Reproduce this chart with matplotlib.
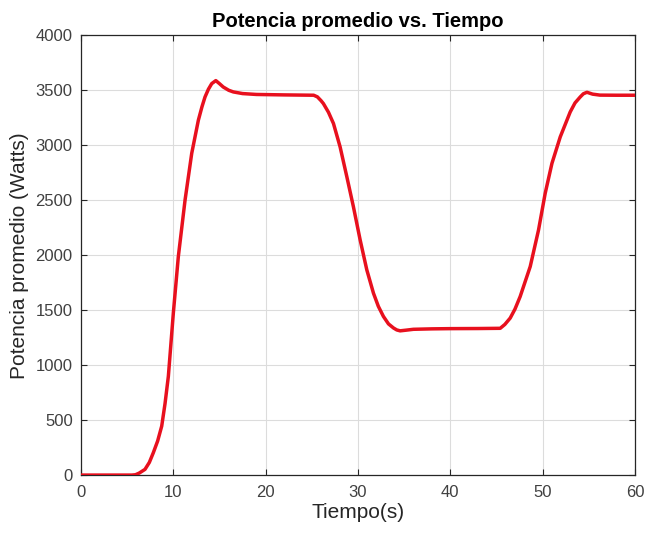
import matplotlib.pyplot as plt
import numpy as np

plt.rcParams['font.family'] = ['Liberation Sans', 'DejaVu Sans']

# Average power over time
tiempo = [0, 5.5, 5.9, 6.3, 6.93, 7.4, 7.83, 8.3, 8.74, 9.1, 9.46, 10.0,
          10.54, 11.27, 11.99, 12.71, 13.1, 13.43, 13.8, 14.16, 14.6, 15.0,
          15.4, 16.0, 16.5, 17.5, 19.0, 22.0, 25.2, 25.6, 26.0, 26.25, 26.8,
          27.34, 28.06, 28.79, 29.5, 30.23, 30.95, 31.67, 32.2, 32.75, 33.3,
          33.84, 34.2, 34.56, 35.2, 36.0, 38.0, 40.0, 43.0, 45.4, 45.9,
          46.48, 47.0, 47.56, 48.65, 49.55, 50.27, 51.0, 51.9, 52.98, 53.5,
          54.06, 54.4, 54.79, 55.4, 56.2, 58.0, 60.0]
potencia = [0, 0, 3, 18, 52, 115, 203, 310, 445, 650, 898, 1474,
            1987, 2502, 2926, 3228, 3350, 3439, 3510, 3561, 3588, 3560,
            3530, 3500, 3485, 3470, 3462, 3458, 3455, 3440, 3405, 3379, 3300,
            3198, 2985, 2713, 2441, 2139, 1867, 1655, 1535, 1443, 1375,
            1338, 1320, 1312, 1318, 1326, 1330, 1332, 1333, 1335, 1370,
            1428, 1510, 1624, 1897, 2230, 2563, 2835, 3076, 3303, 3385,
            3439, 3468, 3482, 3465, 3456, 3455, 3455]

x_ticks = np.arange(0, 61, 10)
y_ticks = np.arange(0, 4001, 500)

fig = plt.figure(figsize=(6.48, 5.35), dpi=100)
ax = fig.add_axes([0.125, 0.112, 0.855, 0.822])

ax.plot(tiempo, potencia, color='#e8101e', linewidth=2.5,
        solid_joinstyle='round', solid_capstyle='round', zorder=3)

ax.set_xlim(0, 60)
ax.set_ylim(0, 4000)
ax.set_xticks(x_ticks)
ax.set_yticks(y_ticks)

# MATLAB-like axes: boxed, inward ticks on all sides, light grid
ax.grid(True, color='#dcdcdc', linewidth=0.8)
ax.set_axisbelow(True)
ax.tick_params(direction='in', length=4, width=0.8, top=True, right=True,
               labelsize=12, colors='#262626', labelcolor='#404040')
ax.tick_params(axis='x', pad=7)
ax.tick_params(axis='y', pad=6)
for s in ax.spines.values():
    s.set_color('#262626')
    s.set_linewidth(0.9)

ax.set_xlabel('Tiempo(s)', fontsize=15, color='#262626', labelpad=2)
ax.set_ylabel('Potencia promedio (Watts)', fontsize=15, color='#262626',
              labelpad=5)
ax.set_title('Potencia promedio vs. Tiempo', fontsize=14.5, fontweight='bold',
             color='black', pad=6)

fig.savefig('out.png', dpi=100)
